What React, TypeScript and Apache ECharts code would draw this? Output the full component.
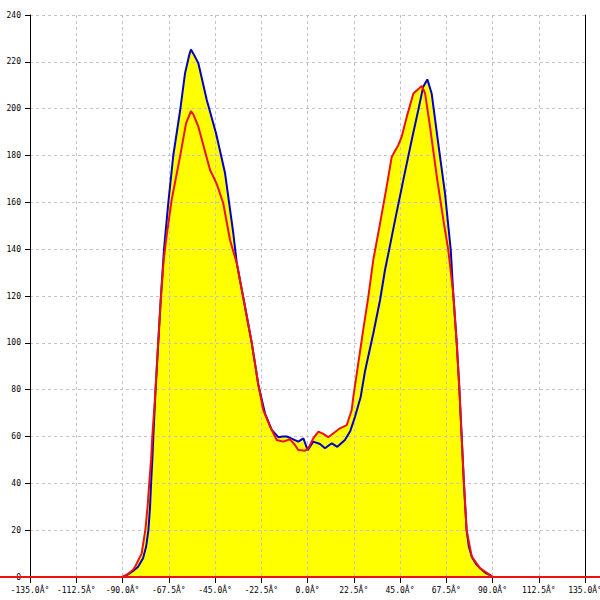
import { useEffect, useRef } from "react";
import * as echarts from "echarts";

// Angle range and ticks
const xMin = -135;
const xMax = 135;
const xStep = 22.5;
const yMin = 0;
const yMax = 240;
const yStep = 20;
const degSuffix = "Â°";

// Blue series [angle, value]
const blueData: [number, number][] = [
  [-90, 0], [-87.5, 1], [-85, 2.5], [-82.5, 4.3], [-80, 8], [-78.5, 13], [-77.4, 20],
  [-76.6, 30], [-76.1, 40], [-75.5, 50], [-75, 60], [-73.9, 80], [-72.6, 100],
  [-71.3, 120], [-69.8, 140], [-67.7, 160], [-65.3, 180], [-62, 199], [-59.6, 215],
  [-57.5, 223], [-56.7, 225.3], [-55.5, 223.5], [-53.1, 219.4], [-49, 203.7],
  [-44.5, 189.5], [-40.1, 172.4], [-36.1, 146.8], [-34.4, 134], [-30.4, 115.4],
  [-27.1, 99.8], [-23.9, 82], [-20.7, 69.9], [-17.4, 62.8], [-14.2, 59.7], [-12, 60],
  [-10.1, 60], [-6.9, 58.8], [-4.5, 57.8], [-2, 59.2], [0.1, 54.2], [2.8, 57.8],
  [6.1, 56.8], [8.5, 55], [11.8, 57.1], [14.5, 55.6], [18.2, 58.5], [20.7, 62.1],
  [23.1, 68.4], [25.9, 77], [28, 88], [32, 104], [35.3, 118.3], [37.7, 131.1],
  [40, 141], [42.6, 152.4], [46.6, 169.5], [50.7, 186.6], [53.9, 199.4],
  [56.3, 209.4], [58.3, 212.5], [60.4, 206.5], [63.6, 185.2], [66.9, 163.8],
  [69.7, 139.6], [70.9, 121], [72.6, 100], [73.9, 80], [75, 60], [76.1, 40],
  [77.4, 20], [78.5, 13], [79.9, 8.7], [82, 5.5], [84, 3.7], [86.5, 1.8],
  [88.8, 0.8], [90, 0],
];

// Red series [angle, value]
const redData: [number, number][] = [
  [-135, 0], [-90, 0], [-87.5, 1.2], [-85, 3], [-83.9, 4.4], [-80.7, 10], [-78.9, 20],
  [-77.8, 30], [-77, 40], [-76.1, 50], [-75.5, 60], [-74.3, 75], [-73, 95],
  [-71.5, 117], [-70, 135], [-68.8, 144], [-66.1, 161], [-62, 179.5], [-59.1, 193.7],
  [-56.7, 199], [-55.5, 197.5], [-53.1, 192.3], [-47.4, 173.8], [-44.2, 168],
  [-41, 159.6], [-37.7, 143.9], [-34.4, 134], [-30.4, 115.4], [-27.1, 99.8],
  [-23.9, 82], [-21.5, 71.3], [-18.2, 64.2], [-15, 58.5], [-11.8, 57.8], [-8.5, 58.8],
  [-6.1, 56.4], [-4.5, 54.2], [-1.2, 53.9], [0.4, 55], [2.8, 59.2], [5.3, 62.1],
  [7.7, 61.1], [10.1, 59.7], [12.6, 61.4], [15.8, 63.5], [19.1, 64.9], [21.5, 71.3],
  [22.3, 77], [24.7, 91.2], [27.1, 105.5], [29.6, 119.7], [32, 135.4], [35.3, 151],
  [38.5, 166.7], [41, 179.5], [44.2, 184.5], [45.8, 188], [48.3, 196.6],
  [51.5, 206.5], [55.6, 209.7], [57.2, 206.5], [59.6, 192.3], [62.9, 171],
  [66.1, 152.4], [68.5, 139.6], [70.9, 121.1], [72.6, 99.8], [73.9, 80], [75, 60],
  [76.1, 40], [77.4, 20], [79.9, 8.7], [84, 3.7], [88.8, 0.85], [90, 0], [135, 0],
];

// the red baseline runs across the whole canvas at this value
const baselineValue = 0;

const BLUE = "#0000c8";
const RED = "#ee1111";
const FILL = "#ffff00";
const FONT = "DejaVu Sans Mono";

export default function App() {
  const ref = useRef<HTMLDivElement>(null);
  useEffect(() => {
    if (!ref.current) return;
    const chart = echarts.init(ref.current, null, { renderer: "svg" });
    const gridLine = { show: true, lineStyle: { color: "#c4c4c4", type: [3, 3], width: 1 } };
    const labelStyle = { fontFamily: FONT, fontSize: 8, color: "#000" };
    chart.setOption({
      animation: false,
      backgroundColor: "#ffffff",
      grid: {
        left: 30,
        right: 15,
        top: 15,
        bottom: 23,
        containLabel: false,
        outerBoundsMode: "none",
      },
      xAxis: {
        type: "value",
        min: xMin,
        max: xMax,
        interval: xStep,
        z: 1,
        axisLine: { show: true, onZero: false, lineStyle: { color: "#000", width: 1 } },
        axisTick: { show: true, length: 6, lineStyle: { color: "#000" } },
        axisLabel: {
          ...labelStyle,
          margin: 9,
          formatter: (v: number) => v.toFixed(1) + degSuffix,
        },
        splitLine: gridLine,
      },
      yAxis: [
        {
          type: "value",
          min: yMin,
          max: yMax,
          interval: yStep,
          z: 1,
          axisLine: { show: true, onZero: false, lineStyle: { color: "#000", width: 1 } },
          axisTick: { show: true, length: 5, lineStyle: { color: "#000" } },
          axisLabel: { ...labelStyle, margin: 9 },
          splitLine: gridLine,
        },
        {
          type: "value",
          position: "right",
          min: yMin,
          max: yMax,
          interval: yStep,
          z: 1,
          axisLine: { show: true, onZero: false, lineStyle: { color: "#000", width: 1 } },
          axisTick: { show: false },
          axisLabel: { show: false },
          splitLine: { show: false },
        },
      ],
      series: [
        {
          type: "line",
          data: blueData,
          symbol: "none",
          z: 0,
          lineStyle: { width: 0 },
          areaStyle: { color: FILL, opacity: 1 },
          silent: true,
        },
        {
          type: "line",
          data: redData,
          symbol: "none",
          z: 0,
          lineStyle: { width: 0 },
          areaStyle: { color: FILL, opacity: 1 },
          silent: true,
        },
        {
          type: "line",
          data: blueData,
          symbol: "none",
          z: 3,
          lineStyle: { color: BLUE, width: 2 },
        },
        {
          type: "line",
          data: redData,
          symbol: "none",
          z: 4,
          lineStyle: { color: RED, width: 2 },
        },
      ],
    });
    const y0 = chart.convertToPixel({ yAxisIndex: 0 }, baselineValue) as number;
    chart.setOption({
      graphic: [
        {
          type: "line",
          z: 100,
          silent: true,
          shape: { x1: 0, y1: y0, x2: chart.getWidth(), y2: y0 },
          style: { stroke: RED, lineWidth: 2 },
        },
      ],
    });
    return () => chart.dispose();
  }, []);
  return (
    <div
      ref={ref}
      style={{ position: "fixed", left: 0, top: 0, width: 600, height: 600, background: "#fff" }}
    />
  );
}
